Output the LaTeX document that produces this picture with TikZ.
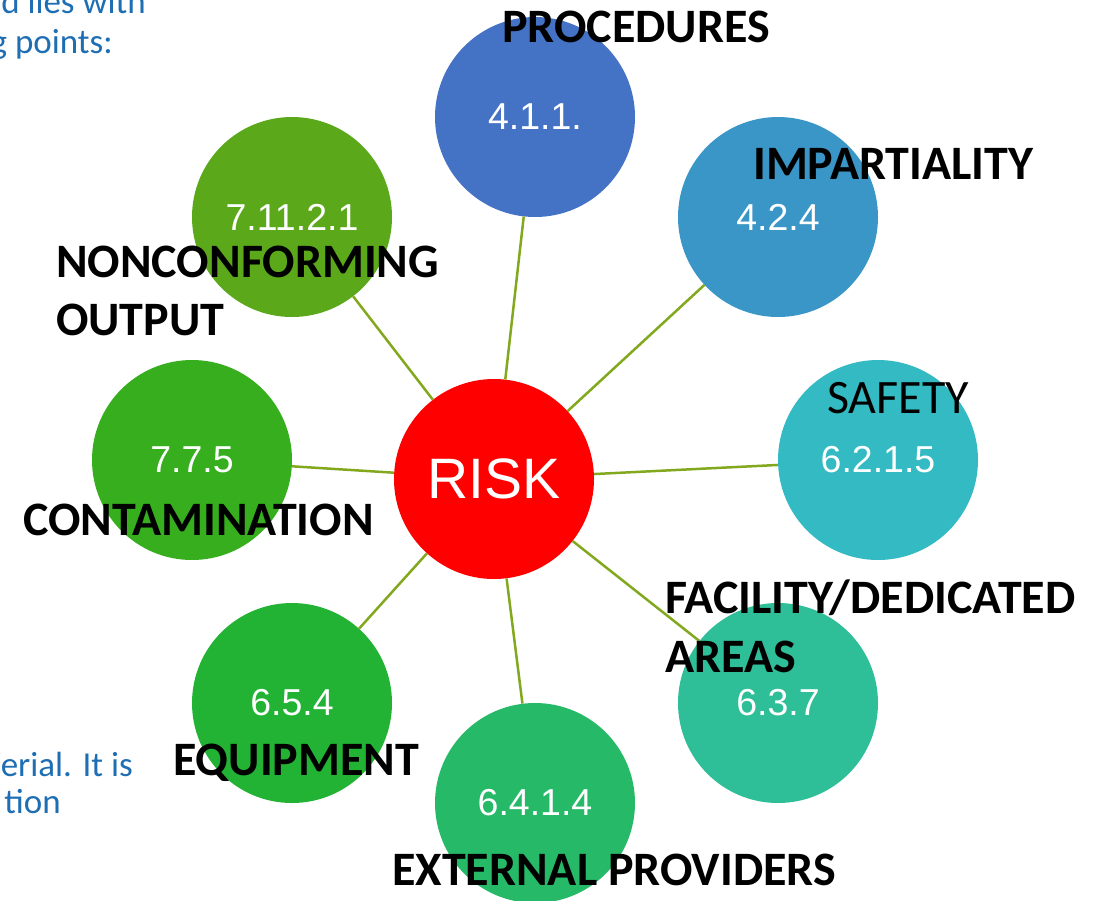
\documentclass[tikz,border=0pt]{standalone}
\usepackage{fontspec}
\newfontfamily\labfont{Carlito}
\newfontfamily\numfont{Liberation Sans}
\definecolor{cA}{RGB}{68,114,196}
\definecolor{cB}{RGB}{58,150,198}
\definecolor{cC}{RGB}{52,186,195}
\definecolor{cD}{RGB}{46,190,152}
\definecolor{cE}{RGB}{38,185,104}
\definecolor{cF}{RGB}{34,178,52}
\definecolor{cG}{RGB}{54,174,30}
\definecolor{cH}{RGB}{91,168,26}
\definecolor{linkc}{RGB}{130,168,30}
\definecolor{bluetxt}{RGB}{30,110,180}
\tikzset{
  disc/.style={circle,draw=none,minimum size=200pt,inner sep=0pt,text=white,
    font=\numfont\fontsize{37.5}{42}\selectfont},
  link/.style={draw=linkc,line width=2.5pt},
  lbl/.style={anchor=base west,inner sep=0pt,font=\labfont\bfseries\fontsize{48}{54}\selectfont},
  lblreg/.style={anchor=base west,inner sep=0pt,font=\labfont\fontsize{48}{54}\selectfont},
  side/.style={anchor=base east,inner sep=0pt,text=bluetxt,font=\labfont\fontsize{35}{41}\selectfont}
}
\begin{document}
\begin{tikzpicture}[x=1pt,y=-1pt]
\useasboundingbox (0,0) rectangle (1099,900);
\clip (0,0) rectangle (1099,900);
% side text
\node[side] (s1) at (146,13) {d lies with};
\node[side] (s2) at (113,53) {g points:};
\node[side] (s3) at (133,776) {erial. It is};
\node[side] (s4) at (61,813) {tion};
% outer circles
\node[disc,fill=cA] (c1) at (535,117) {4.1.1.};
\node[disc,fill=cB] (c2) at (778,217) {4.2.4};
\node[disc,fill=cC] (c3) at (878,460) {6.2.1.5};
\node[disc,fill=cD] (c4) at (778,703) {6.3.7};
\node[disc,fill=cE] (c5) at (535,803) {6.4.1.4};
\node[disc,fill=cF] (c6) at (292,703) {6.5.4};
\node[disc,fill=cG] (c7) at (192,460) {7.7.5};
\node[disc,fill=cH] (c8) at (292,217) {7.11.2.1};
% centre
\node[disc,fill=red,font=\numfont\fontsize{57}{62}\selectfont] (risk) at (494,479) {RISK};
% links
\foreach \c in {c1,c2,c3,c4,c5,c6,c7,c8}
  \draw[link] (risk) -- (\c);
% labels
\node[lbl] (l1) at (502,42) {PROCEDURES};
\node[lbl] (l2) at (753,179) {IMPARTIALITY};
\node[lblreg] (l3) at (827,413) {SAFETY};
\node[lbl] (l4a) at (665,613) {FACILITY/DEDICATED};
\node[lbl] (l4b) at (665,672) {AREAS};
\node[lbl] (l5) at (392,885) {EXTERNAL PROVIDERS};
\node[lbl] (l6) at (173,775) {EQUIPMENT};
\node[lbl] (l7) at (23,535) {CONTAMINATION};
\node[lbl] (l8a) at (56,277) {NONCONFORMING};
\node[lbl] (l8b) at (56,335) {OUTPUT};
\end{tikzpicture}
\end{document}
